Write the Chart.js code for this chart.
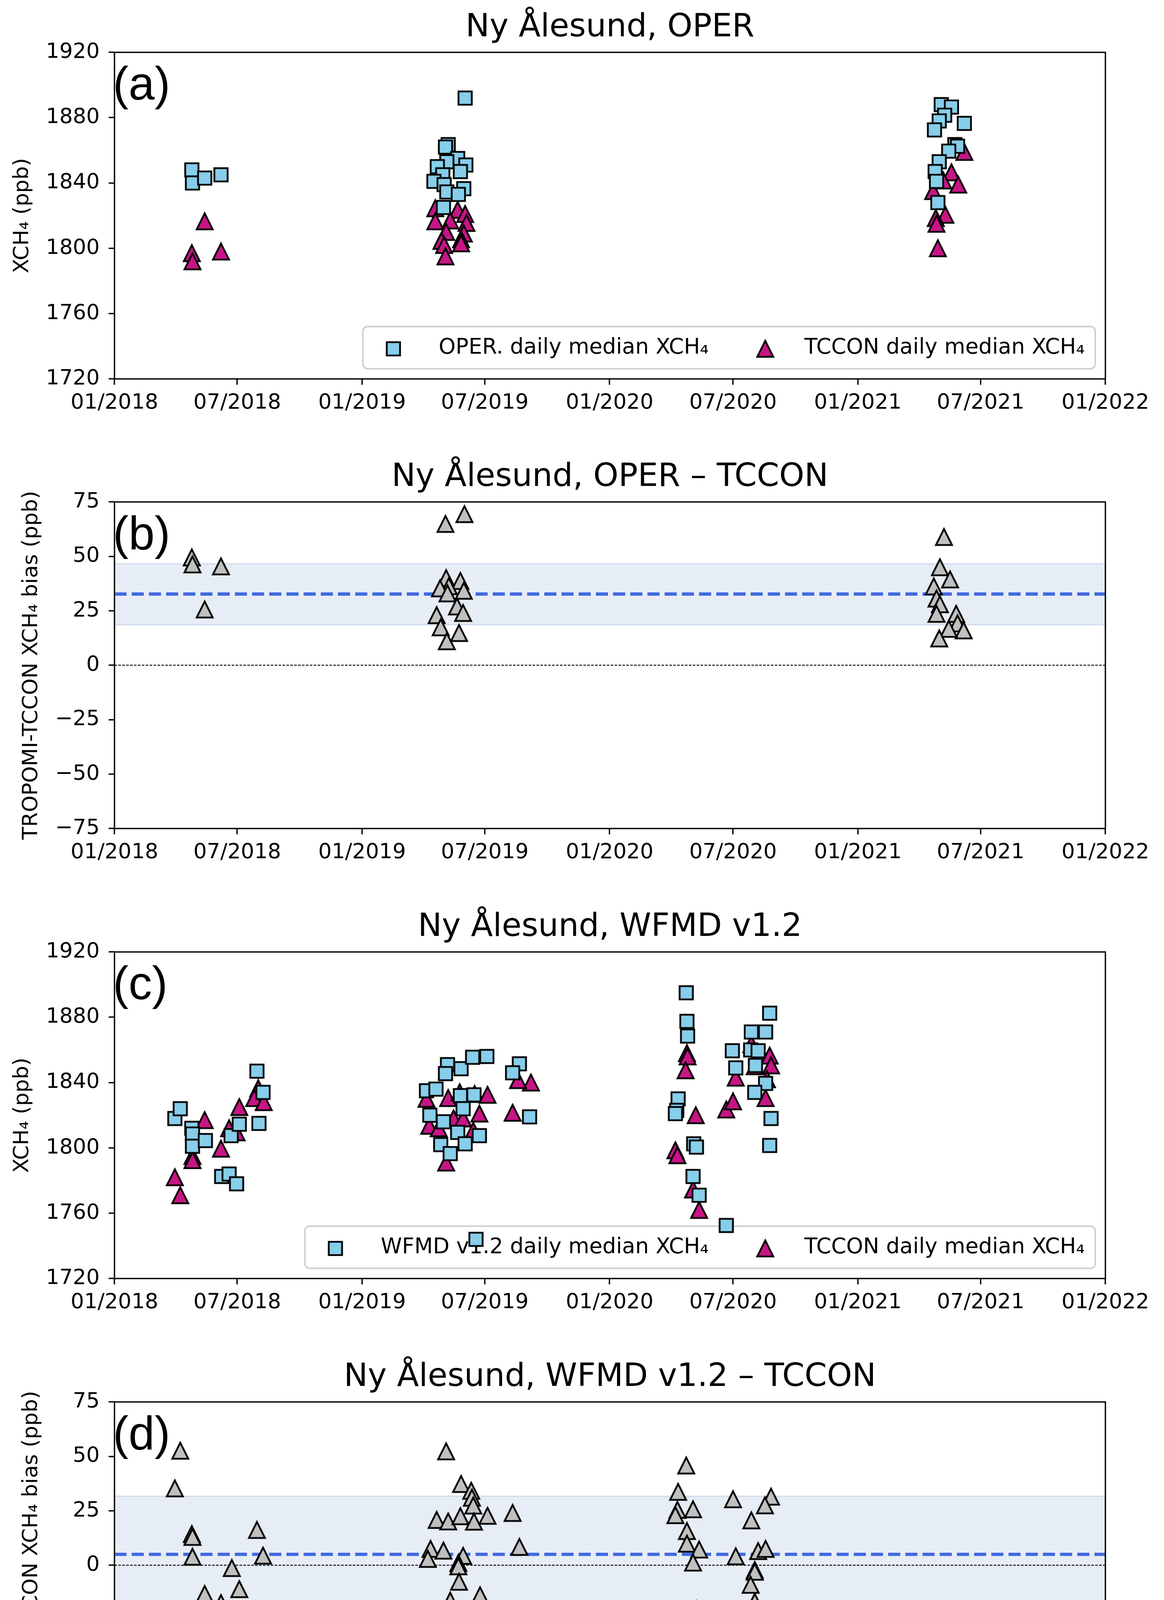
<!DOCTYPE html>
<html>
<head>
<meta charset="utf-8">
<script src="https://cdn.jsdelivr.net/npm/chart.js@4.4.1/dist/chart.umd.min.js"></script>
<style>
html,body{margin:0;padding:0;background:#fff;}
#wrap{position:relative;width:2979px;height:4539px;background:#fff;overflow:hidden;}
#wrap canvas{position:absolute;left:0;}
</style>
</head>
<body>
<div id="wrap">
<canvas id="pa" width="2979" height="1151" style="top:0px;width:2979px;height:1151px"></canvas>
<canvas id="pb" width="2979" height="1152" style="top:1151px;width:2979px;height:1152px"></canvas>
<canvas id="pc" width="2979" height="1152" style="top:2303px;width:2979px;height:1152px"></canvas>
<canvas id="pd" width="2979" height="1084" style="top:3455px;width:2979px;height:1084px"></canvas>
</div>
<script>
// ---------- axis ticks (x in days since 2018-01-01) ----------
const xTickDays = [0, 181, 365, 546, 730, 912, 1096, 1277, 1461];
const xTickLabels = ['01/2018','07/2018','01/2019','07/2019','01/2020','07/2020','01/2021','07/2021','01/2022'];
const yTicksXch4 = [1720, 1760, 1800, 1840, 1880, 1920];
const yTicksBias = [-75, -50, -25, 0, 25, 50, 75];

// ---------- panel (a): OPER vs TCCON ----------
const operDaysA = [114,115,133,157, 517,492,488,506,490,518,476,510,484,471,486,515,490,507,485, 1219,1234,1224,1216,1209,1253,1239,1243,1230,1216,1210,1212,1214];
const operXch4A = [1848,1840,1843,1845, 1892,1863.5,1862,1855,1853,1851,1850,1847,1845,1841,1839,1836.5,1834.5,1833,1825, 1888,1886.5,1881.5,1878,1872.5,1876.5,1863.5,1862.5,1859.5,1853,1847,1841,1828];
const tcconDaysA = [133,114,115,157, 506,473,517,473,495,519,489,515,511,482,486,511,488, 1253,1234,1244,1207,1225,1211,1212,1214,1222];
const tcconXch4A = [1816.5,1797,1792,1798, 1823.5,1824.5,1821,1816.5,1817,1815.5,1810,1809,1805.5,1804.5,1802,1803,1795, 1859,1846.5,1839,1835,1820.5,1818.5,1815,1800,1841.5];

// ---------- panel (b): OPER - TCCON bias ----------
const biasDaysB = [114,115,133,157, 488,516,489,510,493,480,515,491,475,481,505,514,490,508, 1223,1217,1232,1208,1212,1217,1212,1241,1243,1252,1230,1216];
const biasB = [49.5,46.3,25.6,45.4, 64.9,69.4,40,38.7,36.3,35.3,34.2,33,23,17.4,27,24,11,14.8, 58.9,45,39.4,36.2,30.6,28,23.6,23.6,19.2,16,16.7,12.3];
const biasMeanB = 32.7;
const biasBandB = [18.6, 46.6];

// ---------- panel (c): WFMD v1.2 vs TCCON ----------
const wfmdDaysC = [89,97,114,115,115,134,172,184,210,219,213,158,169,180, 460,474,491,488,511,528,549,597,587,612,510,530,465,514,485,506,538,481,517,495,533, 843,844,845,966,939,960,911,938,949,916,945,960,944,968,966,831,829,827,854,858,853,862,902];
const wfmdXch4C = [1818,1824,1812,1808.5,1801,1804.5,1807.5,1814.5,1847,1834,1815,1782.5,1784,1778, 1835,1836,1851,1845.5,1848.5,1855.5,1856,1851.5,1846,1819,1832,1832.5,1820,1824,1816,1809.5,1807.5,1802,1802.5,1796.5,1744, 1895,1877.5,1868.5,1882.5,1871,1871,1859.5,1860,1859.5,1849,1850.5,1839.5,1834,1818,1801.5,1830,1823,1821,1802.5,1800.5,1782.5,1771,1752.5];
const tcconDaysC = [133,184,212,206,220,169,180,157,115,115,89,97, 492,460,509,531,550,538,464,478,500,514,529,489,587,614,595, 844,845,842,857,827,830,853,862,902,912,916,939,966,968,960,962,944];
const tcconXch4C = [1817,1825,1836.5,1830.5,1828,1812,1809.5,1799.5,1795,1792.5,1782,1771, 1830.5,1830,1834,1833,1832.5,1821,1813.5,1812,1818,1818,1810.5,1791,1821.5,1840,1841.5, 1858,1856,1847.5,1820,1798.5,1795.5,1774.5,1762,1823.5,1828.5,1843,1863.5,1856.5,1850.5,1830.5,1842,1850];

// ---------- panel (d): WFMD v1.2 - TCCON bias ----------
const biasDaysD = [97,89,114,115,115,133,157,173,184,169,181,210,219,213, 489,511,526,527,529,475,492,510,530,550,587,466,485,462,514,507,507,508,495,517,539,481,597,613, 843,831,830,827,853,844,844,862,853,858,912,939,968,959,916,949,960,944,944,938,944,968,966,902];
const biasD = [52.6,35.3,14.3,13,3.9,-13.2,-17.4,-1.3,-11,-28.4,-32.6,16.2,4.4,-22.6, 52.3,37.3,34.2,31,27.4,20.8,20.1,22.5,20,22.7,24,7.5,6.7,2.9,4.3,1,-0.5,-7.6,-16.3,-20.7,-13.8,-28.4,8.4,-21.1, 45.8,33.7,25.4,23,25.7,15.7,9.9,7.2,1.2,-20.2,30.3,20.6,31.5,27.5,4.1,6.5,7.5,-2.2,-3,-9,-16.8,-32.8,-54.6,-71.6];
const biasMeanD = 5.0;
const biasBandD = [-21.8, 31.7];

// ---------- text ----------
const titles = ['Ny \u00C5lesund, OPER', 'Ny \u00C5lesund, OPER \u2013 TCCON', 'Ny \u00C5lesund, WFMD v1.2', 'Ny \u00C5lesund, WFMD v1.2 \u2013 TCCON'];
const panelLetters = ['(a)', '(b)', '(c)', '(d)'];
const yTitleXch4 = 'XCH\u2084 (ppb)';
const yTitleBias = 'TROPOMI-TCCON XCH\u2084 bias (ppb)';
const legendOper = 'OPER. daily median XCH\u2084';
const legendWfmd = 'WFMD v1.2 daily median XCH\u2084';
const legendTccon = 'TCCON daily median XCH\u2084';

// ================= rendering =================
const FONT = "'DejaVu Sans', sans-serif";
const AX_LW = 3.4;
Chart.defaults.color = '#000';
Chart.defaults.font.family = FONT;

function pts(days, vals) { return days.map((d, i) => ({ x: d, y: vals[i] })); }

function marker(shape, fill) {
  const c = document.createElement('canvas');
  const S = 64; c.width = S; c.height = S;
  const g = c.getContext('2d');
  g.lineWidth = 4.6; g.lineJoin = 'miter'; g.miterLimit = 10;
  g.strokeStyle = '#000'; g.fillStyle = fill;
  const m = S / 2;
  g.beginPath();
  if (shape === 'square') { const h = 17; g.rect(m - h, m - h, 2 * h, 2 * h); }
  else { const h = 20.5; g.moveTo(m, m - h); g.lineTo(m + h, m + h); g.lineTo(m - h, m + h); g.closePath(); }
  g.fill(); g.stroke();
  return c;
}
const sqBlue = marker('square', '#87CEEB');
const triPink = marker('triangle', '#C71585');
const triGray = marker('triangle', '#C0C0C0');

const framePlugin = {
  id: 'frame',
  afterDatasetsDraw(chart) {
    const { ctx, chartArea: a } = chart;
    ctx.save(); ctx.strokeStyle = '#000'; ctx.lineWidth = AX_LW;
    ctx.strokeRect(a.left, a.top, a.right - a.left, a.bottom - a.top);
    ctx.restore();
  }
};
const letterPlugin = {
  id: 'panelLetter',
  afterDatasetsDraw(chart, args, opts) {
    const { ctx, chartArea: a } = chart;
    ctx.save(); ctx.fillStyle = '#000';
    ctx.font = "120px 'Liberation Sans', Arial, sans-serif";
    ctx.textAlign = 'left'; ctx.textBaseline = 'alphabetic';
    ctx.fillText(opts.text, a.left - 4, a.top + 121);
    ctx.restore();
  }
};
const insideLegend = {
  id: 'insideLegend',
  beforeDatasetsDraw(chart, args, opts) {
    if (!opts.items) return;
    const { ctx, chartArea: a } = chart;
    ctx.save();
    ctx.font = "55px " + FONT;
    const w1 = ctx.measureText(opts.items[0].label).width;
    const w2 = ctx.measureText(opts.items[1].label).width;
    const right = a.right - 26, bottom = a.bottom - 26, top = bottom - 108;
    const t2 = right - 27 - w2, m2 = t2 - 100, t1 = m2 - 145 - w1, m1 = t1 - 116, left = m1 - 78;
    ctx.beginPath();
    ctx.roundRect(left, top, right - left, bottom - top, 12);
    ctx.fillStyle = 'rgba(255,255,255,0.8)'; ctx.fill();
    ctx.lineWidth = 4; ctx.strokeStyle = '#d0d0d0'; ctx.stroke();
    const my = top + 57;
    const i1 = opts.items[0].image, i2 = opts.items[1].image;
    ctx.drawImage(i1, m1 - i1.width / 2, my - i1.height / 2);
    ctx.drawImage(i2, m2 - i2.width / 2, my - i2.height / 2);
    ctx.fillStyle = '#000'; ctx.textBaseline = 'alphabetic'; ctx.textAlign = 'left';
    ctx.fillText(opts.items[0].label, t1, top + 69);
    ctx.fillText(opts.items[1].label, t2, top + 69);
    ctx.restore();
  }
};

function gridOpts() {
  return { display: true, drawOnChartArea: false, drawTicks: true, tickLength: 15, color: '#000', lineWidth: AX_LW };
}

function makePanel(id, H, cfg) {
  const datasets = [];
  cfg.points.forEach((p, k) => {
    datasets.push({ type: 'scatter', label: p.label, data: p.data, pointStyle: p.image, pointRadius: 24, pointHoverRadius: 24, showLine: false, order: k, clip: 0 });
  });
  if (cfg.band) {
    const bandEdge = 'rgba(176,196,222,0.55)';
    datasets.push({ type: 'line', data: [{ x: 0, y: cfg.band[1] }, { x: 1461, y: cfg.band[1] }], borderColor: bandEdge, borderWidth: 3, pointRadius: 0, fill: false, order: 10, clip: 0 });
    datasets.push({ type: 'line', data: [{ x: 0, y: cfg.band[0] }, { x: 1461, y: cfg.band[0] }], borderColor: bandEdge, borderWidth: 3, pointRadius: 0, fill: '-1', backgroundColor: 'rgba(176,196,222,0.3)', order: 10, clip: 0 });
    datasets.push({ type: 'line', data: [{ x: 0, y: 0 }, { x: 1461, y: 0 }], borderColor: '#000', borderWidth: 2.3, borderDash: [6.5, 3.5], pointRadius: 0, fill: false, order: 8, clip: 0 });
    datasets.push({ type: 'line', data: [{ x: 0, y: cfg.mean }, { x: 1461, y: cfg.mean }], borderColor: '#4169E1', borderWidth: 8.3, borderDash: [31, 13], pointRadius: 0, fill: false, order: 7, clip: 0 });
  }
  return new Chart(document.getElementById(id), {
    type: 'scatter',
    data: { datasets },
    plugins: [framePlugin, letterPlugin, insideLegend],
    options: {
      responsive: false, animation: false, devicePixelRatio: 1, events: [],
      layout: { padding: { left: 0, right: 150, top: 0, bottom: 0 } },
      plugins: {
        legend: { display: false }, tooltip: { enabled: false },
        title: { display: true, text: cfg.title, fullSize: false, color: '#000',
                 font: { family: FONT, size: 82, weight: 'normal', lineHeight: 1 },
                 padding: { top: 31, bottom: 21 } },
        panelLetter: { text: cfg.letter },
        insideLegend: { items: cfg.legend || null }
      },
      scales: {
        x: {
          type: 'linear', min: 0, max: 1461,
          afterBuildTicks: s => { s.ticks = xTickDays.map(v => ({ value: v })); },
          ticks: { callback: (v, i) => xTickLabels[i], font: { family: FONT, size: 54 }, color: '#000', padding: 15, autoSkip: false, maxRotation: 0, minRotation: 0 },
          grid: gridOpts(), border: { display: false },
          afterFit: s => { s.height = H - 970; }
        },
        y: {
          type: 'linear', min: cfg.yTicks[0], max: cfg.yTicks[cfg.yTicks.length - 1],
          afterBuildTicks: s => { s.ticks = cfg.yTicks.map(v => ({ value: v })); },
          ticks: { callback: v => String(v).replace('-', '\u2212'), font: { family: FONT, size: 54 }, color: '#000', padding: 23, autoSkip: false },
          grid: gridOpts(), border: { display: false },
          title: { display: true, text: cfg.yTitle, color: '#000', font: { family: FONT, size: 54, lineHeight: 1 }, padding: { top: cfg.yTitlePad, bottom: 0 } },
          afterFit: s => { s.width = 293; }
        }
      }
    }
  });
}

makePanel('pa', 1151, {
  title: titles[0], letter: panelLetters[0], yTicks: yTicksXch4, yTitle: yTitleXch4, yTitlePad: 31,
  points: [
    { label: legendOper, data: pts(operDaysA, operXch4A), image: sqBlue },
    { label: legendTccon, data: pts(tcconDaysA, tcconXch4A), image: triPink }
  ],
  legend: [{ label: legendOper, image: sqBlue }, { label: legendTccon, image: triPink }]
});
makePanel('pb', 1152, {
  title: titles[1], letter: panelLetters[1], yTicks: yTicksBias, yTitle: yTitleBias, yTitlePad: 54,
  points: [{ label: 'bias', data: pts(biasDaysB, biasB), image: triGray }],
  band: biasBandB, mean: biasMeanB
});
makePanel('pc', 1152, {
  title: titles[2], letter: panelLetters[2], yTicks: yTicksXch4, yTitle: yTitleXch4, yTitlePad: 31,
  points: [
    { label: legendWfmd, data: pts(wfmdDaysC, wfmdXch4C), image: sqBlue },
    { label: legendTccon, data: pts(tcconDaysC, tcconXch4C), image: triPink }
  ],
  legend: [{ label: legendWfmd, image: sqBlue }, { label: legendTccon, image: triPink }]
});
makePanel('pd', 1084, {
  title: titles[3], letter: panelLetters[3], yTicks: yTicksBias, yTitle: yTitleBias, yTitlePad: 54,
  points: [{ label: 'bias', data: pts(biasDaysD, biasD), image: triGray }],
  band: biasBandD, mean: biasMeanD
});
</script>
</body>
</html>
